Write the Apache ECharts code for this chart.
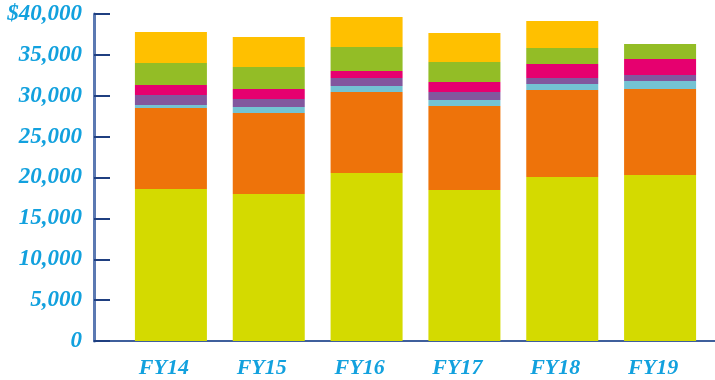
<!DOCTYPE html>
<html>
<head>
<meta charset="utf-8">
<script src="https://cdn.jsdelivr.net/npm/echarts@6/dist/echarts.min.js"></script>
<style>
  html, body { margin: 0; padding: 0; background: #fff; }
  #chart { width: 715px; height: 380px; }
</style>
</head>
<body>
<div id="chart"></div>
<script>
// 财年类别与各分项（自下而上堆叠）
const years = ['FY14', 'FY15', 'FY16', 'FY17', 'FY18', 'FY19'];
const seg1 = [18600, 17980, 20550, 18470, 20060, 20300]; // 黄绿
const seg2 = [9900, 9900, 9900, 10270, 10640, 10520];    // 橙
const seg3 = [370, 740, 740, 730, 730, 980];              // 浅蓝
const seg4 = [1220, 980, 970, 980, 730, 730];             // 紫
const seg5 = [1220, 1220, 860, 1230, 1720, 1960];         // 玫红
const seg6 = [2690, 2690, 2940, 2440, 1950, 1830];        // 绿
const seg7 = [3790, 3670, 3670, 3550, 3310, 0];           // 黄
const yTicks = [0, 5000, 10000, 15000, 20000, 25000, 30000, 35000, 40000];

const labelColor = '#12a1de';
const labelFont = { fontFamily: 'Liberation Serif', fontStyle: 'italic', fontWeight: 'bold', fontSize: 22, color: labelColor };

const colors = ['#d4da00', '#ee730a', '#74c3d3', '#82579e', '#e6006f', '#93bd26', '#ffc000'];
const segs = [seg1, seg2, seg3, seg4, seg5, seg6, seg7];

const chart = echarts.init(document.getElementById('chart'));

const fmt = (v) => {
  if (v === 0) return '0';
  const s = String(v).replace(/\B(?=(\d{3})+(?!\d))/g, ',');
  return v === yTicks[yTicks.length - 1] ? '$' + s : s;
};

chart.setOption({
  animation: false,
  grid: [
    { left: 122, right: 6, top: 14, bottom: 39 },
    { left: 94, right: 0, top: 14, bottom: 39 }
  ],
  xAxis: [
    {
      type: 'category', gridIndex: 0, data: years,
      axisLine: { show: false }, axisTick: { show: false },
      axisLabel: Object.assign({ margin: 16, padding: [0, 14, 0, 0] }, labelFont)
    },
    {
      type: 'value', gridIndex: 1, min: 0, max: 1,
      axisLine: { show: true, lineStyle: { color: '#3f5f9c', width: 2 } },
      axisTick: { show: false }, axisLabel: { show: false }, splitLine: { show: false }
    }
  ],
  yAxis: [
    {
      type: 'value', gridIndex: 0, min: 0, max: 40000, interval: 5000, show: false
    },
    {
      type: 'value', gridIndex: 1, min: 0, max: 40000, interval: 5000,
      axisLine: { show: true, lineStyle: { color: '#5b79b2', width: 3 } },
      axisTick: { show: true, inside: true, length: 16, lineStyle: { color: '#1f3f80', width: 2 } },
      splitLine: { show: false },
      axisLabel: Object.assign({}, labelFont, { margin: 12, fontSize: 23, padding: [6, 0, 0, 0], formatter: fmt })
    }
  ],
  series: segs.map((d, i) => ({
    type: 'bar', stack: 'total', xAxisIndex: 0, yAxisIndex: 0,
    barWidth: 72, data: d,
    itemStyle: { color: colors[i] }
  }))
});
</script>
</body>
</html>
